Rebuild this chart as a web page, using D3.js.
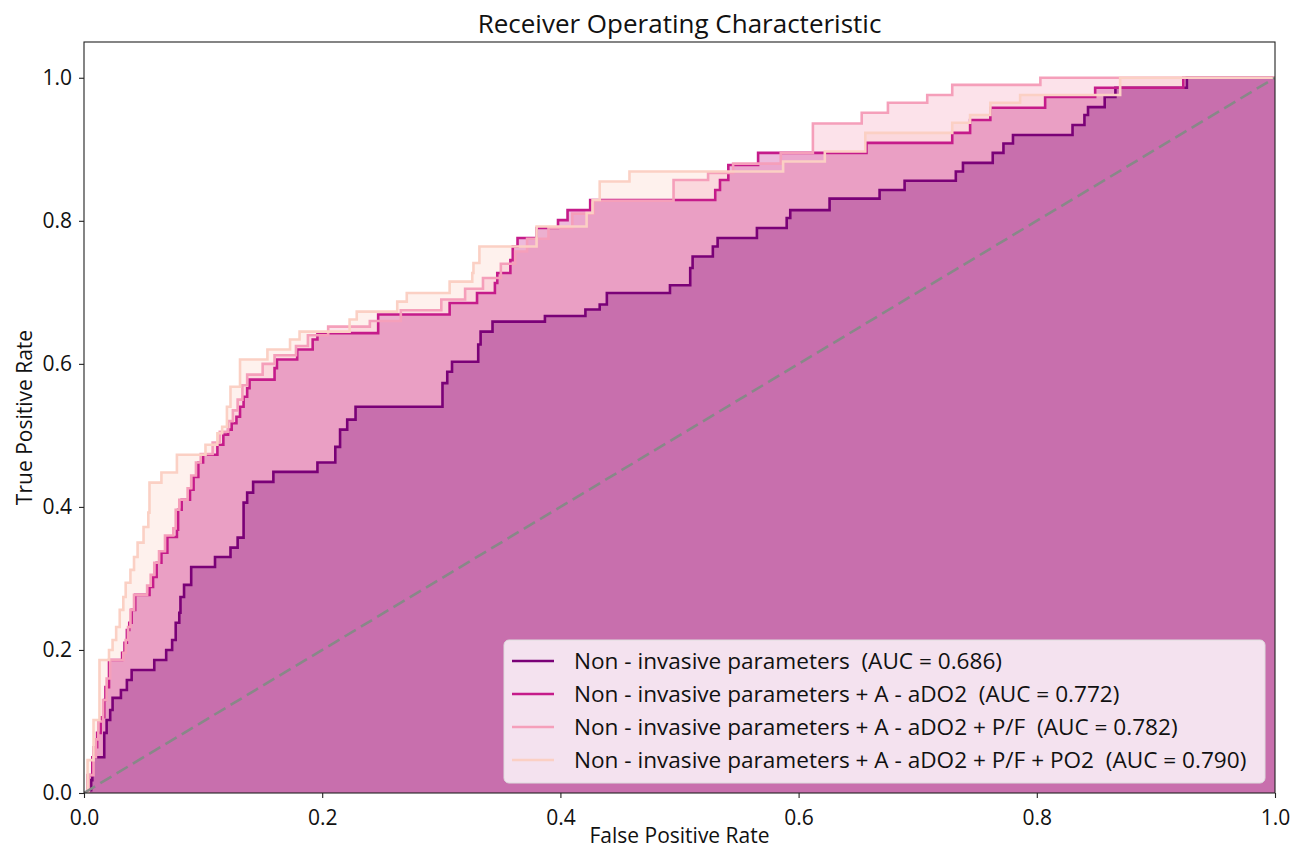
<!DOCTYPE html>
<html>
<head>
<meta charset="utf-8">
<script src="https://cdn.jsdelivr.net/npm/d3@7"></script>
<style>
  body { margin: 0; background: #fff; }
  text { font-family: "Open Sans", "Noto Sans", sans-serif; fill: #111; }
</style>
</head>
<body>
<div id="chart"></div>
<script>
// ROC points: [false positive rate, true positive rate], tpr jumps at each fpr
const rocNonInvasive = [[0,0],[.004,.004],[.006,.018],[.007,.05],[.017,.067],[.017,.084],[.019,.102],[.022,.116],[.024,.133],[.031,.144],[.036,.158],[.040,.172],[.059,.186],[.069,.2],[.074,.214],[.077,.238],[.080,.252],[.081,.274],[.084,.291],[.090,.316],[.110,.330],[.123,.343],[.129,.357],[.134,.406],[.137,.420],[.142,.435],[.159,.449],[.196,.462],[.211,.484],[.215,.508],[.221,.522],[.228,.540],[.301,.573],[.305,.589],[.309,.603],[.331,.627],[.333,.645],[.343,.659],[.387,.667],[.421,.676],[.433,.683],[.439,.699],[.492,.710],[.509,.734],[.511,.750],[.528,.764],[.532,.776],[.565,.790],[.590,.804],[.593,.815],[.626,.831],[.668,.843],[.689,.856],[.732,.869],[.738,.881],[.763,.895],[.772,.908],[.780,.920],[.830,.934],[.840,.948],[.843,.959],[.857,.973],[.866,.986],[.926,1],[1,1]];

const rocAaDO2 = [[0,0],[.003,.025],[.007,.05],[.008,.064],[.011,.084],[.014,.106],[.017,.13],[.018,.148],[.021,.186],[.032,.196],[.034,.21],[.036,.228],[.038,.238],[.040,.256],[.043,.277],[.055,.288],[.058,.302],[.061,.322],[.065,.336],[.070,.358],[.078,.368],[.079,.396],[.082,.41],[.089,.424],[.092,.442],[.096,.462],[.100,.473],[.112,.487],[.117,.501],[.121,.508],[.124,.517],[.128,.526],[.131,.54],[.134,.554],[.137,.566],[.139,.578],[.160,.594],[.162,.606],[.179,.62],[.192,.634],[.196,.643],[.247,.669],[.307,.685],[.330,.699],[.345,.713],[.347,.727],[.358,.745],[.360,.764],[.364,.776],[.380,.79],[.398,.801],[.406,.815],[.425,.829],[.530,.843],[.534,.857],[.541,.878],[.566,.895],[.657,.909],[.729,.923],[.744,.941],[.761,.958],[.807,.973],[.849,.986],[.923,1],[1,1]];

const rocPF = [[0,0],[.004,.025],[.008,.05],[.010,.075],[.012,.10],[.016,.13],[.019,.16],[.022,.186],[.033,.196],[.035,.214],[.037,.232],[.039,.256],[.042,.277],[.053,.29],[.056,.305],[.059,.322],[.063,.338],[.068,.36],[.075,.37],[.077,.396],[.080,.41],[.087,.426],[.090,.444],[.094,.462],[.098,.474],[.108,.49],[.114,.505],[.121,.52],[.125,.535],[.129,.55],[.133,.57],[.137,.585],[.150,.6],[.160,.612],[.178,.625],[.188,.64],[.205,.652],[.240,.66],[.266,.675],[.300,.69],[.320,.705],[.335,.72],[.350,.74],[.362,.757],[.372,.775],[.390,.79],[.410,.81],[.428,.828],[.495,.857],[.524,.867],[.545,.88],[.585,.895],[.612,.936],[.653,.951],[.675,.965],[.708,.976],[.729,.99],[.803,1],[1,1]];

const rocPO2 = [[0,0],[.003,.046],[.008,.102],[.013,.186],[.021,.2],[.024,.214],[.027,.232],[.030,.256],[.033,.274],[.035,.294],[.039,.312],[.042,.33],[.045,.35],[.050,.372],[.054,.392],[.055,.434],[.065,.448],[.078,.473],[.102,.487],[.112,.503],[.116,.512],[.120,.54],[.123,.568],[.131,.606],[.154,.62],[.173,.634],[.181,.645],[.223,.662],[.229,.673],[.263,.687],[.271,.699],[.307,.715],[.326,.727],[.327,.741],[.332,.764],[.380,.792],[.422,.811],[.427,.829],[.433,.855],[.458,.869],[.587,.883],[.622,.897],[.656,.923],[.729,.937],[.744,.948],[.761,.965],[.786,.976],[.870,1],[1,1]];

const seriesLabels = [
  "Non - invasive parameters  (AUC = 0.686)",
  "Non - invasive parameters + A - aDO2  (AUC = 0.772)",
  "Non - invasive parameters + A - aDO2 + P/F  (AUC = 0.782)",
  "Non - invasive parameters + A - aDO2 + P/F + PO2  (AUC = 0.790)"
];
const seriesColors = ["#7a0177", "#c51b8a", "#f59fba", "#fbd0c4"];
const xTicks = [0, 0.2, 0.4, 0.6, 0.8, 1.0];
const yTicks = [0, 0.2, 0.4, 0.6, 0.8, 1.0];

const W = 1292, H = 851;
const margin = { left: 84, right: 17, top: 42, bottom: 58 };

const svg = d3.select("#chart").append("svg")
  .attr("width", W).attr("height", H);

const x = d3.scaleLinear().domain([0, 1]).range([margin.left, W - margin.right]);
const y = d3.scaleLinear().domain([0, 1.05]).range([H - margin.bottom, margin.top]);

const curves = [rocNonInvasive, rocAaDO2, rocPF, rocPO2];

const area = d3.area()
  .curve(d3.curveStepAfter)
  .x(d => x(d[0]))
  .y0(y(0))
  .y1(d => y(d[1]));

const line = d3.line()
  .curve(d3.curveStepAfter)
  .x(d => x(d[0]))
  .y(d => y(d[1]));

svg.append("defs").append("clipPath").attr("id", "plot-clip")
  .append("rect")
  .attr("x", x(0)).attr("y", y(1.05))
  .attr("width", x(1) - x(0)).attr("height", y(0) - y(1.05));

const plot = svg.append("g").attr("clip-path", "url(#plot-clip)");

// fills, lightest first so the darkest sits on top
const fillOrder = [3, 2, 1, 0];
fillOrder.forEach(i => {
  plot.append("path")
    .attr("d", area(curves[i]))
    .attr("fill", seriesColors[i])
    .attr("fill-opacity", 0.3);
});

curves.forEach((c, i) => {
  plot.append("path")
    .attr("d", line(c))
    .attr("fill", "none")
    .attr("stroke", seriesColors[i])
    .attr("stroke-width", 2.6);
});

// chance diagonal
plot.append("line")
  .attr("x1", x(0)).attr("y1", y(0))
  .attr("x2", x(1)).attr("y2", y(1))
  .attr("stroke", "#888")
  .attr("stroke-width", 2.6)
  .attr("stroke-dasharray", "13,6");

// axes
const fmt = d3.format(".1f");
const xAxis = svg.append("g")
  .attr("transform", `translate(0,${y(0)})`)
  .call(d3.axisBottom(x).tickValues(xTicks).tickFormat(fmt).tickSize(5).tickSizeOuter(0));
const yAxis = svg.append("g")
  .attr("transform", `translate(${x(0)},0)`)
  .call(d3.axisLeft(y).tickValues(yTicks).tickFormat(fmt).tickSize(5).tickPadding(7).tickSizeOuter(0));

[xAxis, yAxis].forEach(a => {
  a.select(".domain").remove();
  a.selectAll(".tick line").attr("stroke", "#222").attr("stroke-width", 1.1);
  a.selectAll(".tick text").attr("font-size", 21).attr("fill", "#111")
    .style("font-family", '"Open Sans", sans-serif');
});
xAxis.selectAll(".tick text").attr("y", 32).attr("dy", 0);

// frame
svg.append("rect")
  .attr("x", x(0)).attr("y", y(1.05))
  .attr("width", x(1) - x(0)).attr("height", y(0) - y(1.05))
  .attr("fill", "none").attr("stroke", "#222").attr("stroke-width", 1.1);

// title and axis labels
svg.append("text")
  .attr("x", (x(0) + x(1)) / 2).attr("y", 33)
  .attr("text-anchor", "middle").attr("font-size", 26)
  .text("Receiver Operating Characteristic");

svg.append("text")
  .attr("x", (x(0) + x(1)) / 2).attr("y", 843)
  .attr("text-anchor", "middle").attr("font-size", 21)
  .text("False Positive Rate");

svg.append("text")
  .attr("transform", `translate(32,${(y(0) + y(1.05)) / 2}) rotate(-90)`)
  .attr("text-anchor", "middle").attr("font-size", 21)
  .text("True Positive Rate");

// legend
const lg = svg.append("g");
lg.append("rect")
  .attr("x", 504).attr("y", 640)
  .attr("width", 761).attr("height", 143)
  .attr("rx", 5).attr("ry", 5)
  .attr("fill", "#fff").attr("fill-opacity", 0.8)
  .attr("stroke", "#ddd").attr("stroke-width", 1);

seriesLabels.forEach((label, i) => {
  const cy = 661 + i * 33;
  lg.append("line")
    .attr("x1", 512).attr("x2", 554)
    .attr("y1", cy).attr("y2", cy)
    .attr("stroke", seriesColors[i]).attr("stroke-width", 2.6);
  lg.append("text")
    .attr("x", 574).attr("y", cy)
    .attr("dy", "0.35em")
    .attr("font-size", 22.6)
    .style("white-space", "pre")
    .text(label);
});
</script>
</body>
</html>
